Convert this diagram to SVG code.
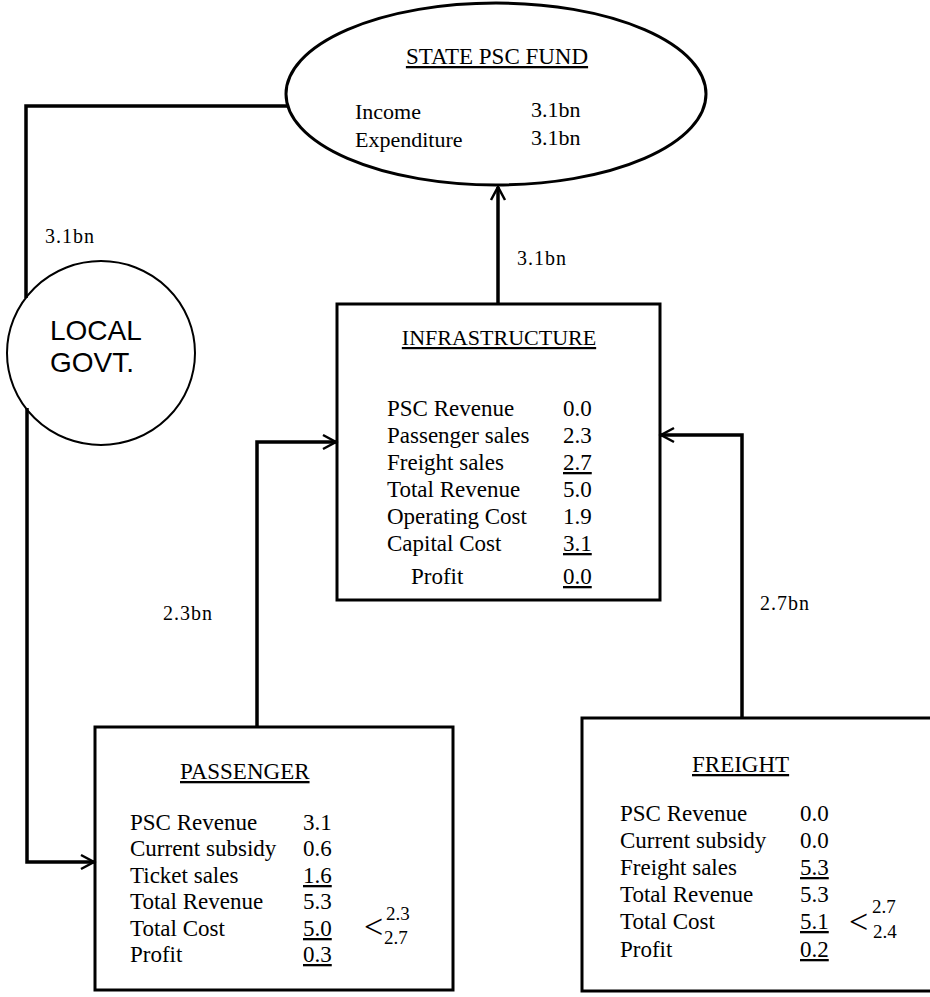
<svg xmlns="http://www.w3.org/2000/svg" width="930" height="997" viewBox="0 0 930 997">
<style>
  .bg { fill: #ffffff; }
  .node { fill: none; stroke: #000; stroke-width: 3; }
  .thin { fill: none; stroke: #000; stroke-width: 2; }
  .conn { fill: none; stroke: #000; stroke-width: 3.5; }
  text { font-family: "Liberation Serif", "Times New Roman", serif; fill: #000; }
  .title { font-size: 23px; text-decoration: underline; }
  .row { font-size: 23px; }
  .u { text-decoration: underline; }
  .lbl { font-size: 20px; letter-spacing: 1px; }
  .ell { font-size: 22px; }
  .lg { font-family: "Liberation Sans", Arial, sans-serif; font-size: 28px; }
  .br { font-size: 34px; }
  .sup { font-size: 19px; }
</style>
<defs>
  <marker id="arr" markerUnits="userSpaceOnUse" markerWidth="18" markerHeight="20" refX="15" refY="9" orient="auto">
    <path d="M2,2 L15,9 L2,16" fill="none" stroke="#000" stroke-width="2.5"/>
  </marker>
</defs>
<rect class="bg" x="0" y="0" width="930" height="997"/>

<g id="connectors">
  <polyline class="conn" points="287,106 26,106 26,298"/>
  <polyline class="conn" points="27,408 27,862 94,862" marker-end="url(#arr)"/>
  <polyline class="conn" points="257,727 257,442 336,442" marker-end="url(#arr)"/>
  <polyline class="conn" points="742,718 742,435 661,435" marker-end="url(#arr)"/>
  <line class="conn" x1="498" y1="304" x2="498" y2="187" marker-end="url(#arr)"/>
  <text class="lbl" x="45" y="243">3.1bn</text>
  <text class="lbl" x="517" y="265">3.1bn</text>
  <text class="lbl" x="163" y="620">2.3bn</text>
  <text class="lbl" x="760" y="610">2.7bn</text>
</g>

<g id="state-psc-fund">
  <ellipse class="node" cx="496" cy="94" rx="210" ry="91"/>
  <text class="title" x="497" y="64" text-anchor="middle">STATE PSC FUND</text>
  <text class="ell" x="355" y="119">Income</text>
  <text class="ell" x="531" y="117">3.1bn</text>
  <text class="ell" x="355" y="147">Expenditure</text>
  <text class="ell" x="531" y="145">3.1bn</text>
</g>

<g id="local-govt">
  <ellipse class="thin" cx="101" cy="353" rx="94" ry="92"/>
  <text class="lg" x="50" y="340">LOCAL</text>
  <text class="lg" x="50" y="372">GOVT.</text>
</g>

<g id="infrastructure">
  <rect class="node" x="337" y="304" width="323" height="296"/>
  <text class="title" x="499" y="345" text-anchor="middle" style="font-size:22px">INFRASTRUCTURE</text>
  <text class="row" x="387" y="416">PSC Revenue</text>
  <text class="row" x="563" y="416">0.0</text>
  <text class="row" x="387" y="443">Passenger sales</text>
  <text class="row" x="563" y="443">2.3</text>
  <text class="row" x="387" y="470">Freight sales</text>
  <text class="row u" x="563" y="470">2.7</text>
  <text class="row" x="387" y="497">Total Revenue</text>
  <text class="row" x="563" y="497">5.0</text>
  <text class="row" x="387" y="524">Operating Cost</text>
  <text class="row" x="563" y="524">1.9</text>
  <text class="row" x="387" y="551">Capital Cost</text>
  <text class="row u" x="563" y="551">3.1</text>
  <text class="row" x="411" y="584">Profit</text>
  <text class="row u" x="563" y="584">0.0</text>
</g>

<g id="passenger">
  <rect class="node" x="95" y="727" width="358" height="263"/>
  <text class="title" x="180" y="779">PASSENGER</text>
  <text class="row" x="130" y="830">PSC Revenue</text>
  <text class="row" x="303" y="830">3.1</text>
  <text class="row" x="130" y="856">Current subsidy</text>
  <text class="row" x="303" y="856">0.6</text>
  <text class="row" x="130" y="883">Ticket sales</text>
  <text class="row u" x="303" y="883">1.6</text>
  <text class="row" x="130" y="909">Total Revenue</text>
  <text class="row" x="303" y="909">5.3</text>
  <text class="row" x="130" y="936">Total Cost</text>
  <text class="row u" x="303" y="936">5.0</text>
  <text class="row" x="130" y="962">Profit</text>
  <text class="row u" x="303" y="962">0.3</text>
  <text class="br" x="364" y="938">&lt;</text>
  <text class="sup" x="386" y="920">2.3</text>
  <text class="sup" x="384" y="944">2.7</text>
</g>

<g id="freight">
  <rect class="node" x="582" y="718" width="360" height="273"/>
  <text class="title" x="692" y="772">FREIGHT</text>
  <text class="row" x="620" y="821">PSC Revenue</text>
  <text class="row" x="800" y="821">0.0</text>
  <text class="row" x="620" y="848">Current subsidy</text>
  <text class="row" x="800" y="848">0.0</text>
  <text class="row" x="620" y="875">Freight sales</text>
  <text class="row u" x="800" y="875">5.3</text>
  <text class="row" x="620" y="902">Total Revenue</text>
  <text class="row" x="800" y="902">5.3</text>
  <text class="row" x="620" y="929">Total Cost</text>
  <text class="row u" x="800" y="929">5.1</text>
  <text class="row" x="620" y="957">Profit</text>
  <text class="row u" x="800" y="957">0.2</text>
  <text class="br" x="849" y="933">&lt;</text>
  <text class="sup" x="872" y="913">2.7</text>
  <text class="sup" x="873" y="938">2.4</text>
</g>
</svg>
